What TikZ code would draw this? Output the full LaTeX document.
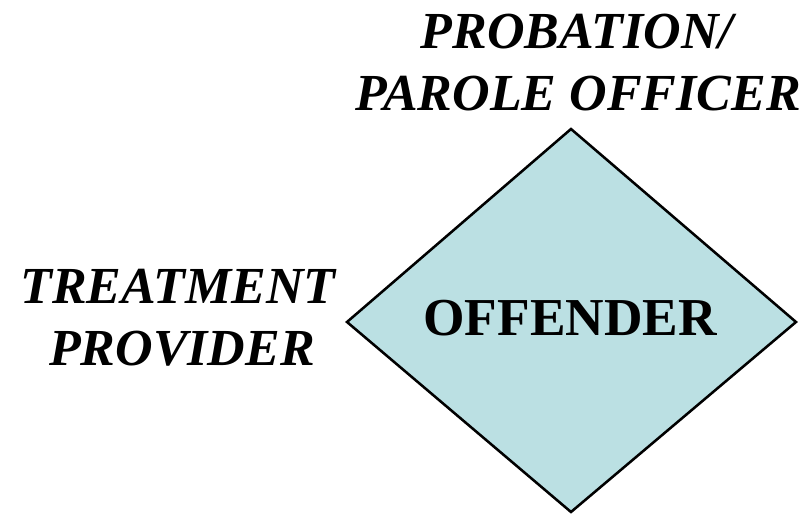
\documentclass[tikz,border=0pt]{standalone}
\usepackage{fontspec}
\setmainfont{Liberation Serif}
\definecolor{diafill}{HTML}{BBE0E3}
\begin{document}
\begin{tikzpicture}[x=0.75pt,y=-0.75pt,
  lbl/.style={font=\fontsize{39}{47}\selectfont\bfseries\itshape,anchor=base,inner sep=0pt},
  ctr/.style={font=\fontsize{40}{48}\selectfont\bfseries,anchor=base,inner sep=0pt},
  dia/.style={draw=black,line width=1.9pt,fill=diafill,line join=miter}]
\useasboundingbox (0,0) rectangle (811,514);
\coordinate (T) at (571,129);
\coordinate (R) at (796,322);
\coordinate (B) at (571,512);
\coordinate (L) at (347,322);
\draw[dia] (T) -- (R) -- (B) -- (L) -- cycle;
\node[ctr] (off) at (570,335) {OFFENDER};
\node[lbl] (prob) at (577,48) {PROBATION/};
\node[lbl] (par) at (578,110) {PAROLE OFFICER};
\node[lbl] (treat) at (178,303) {TREATMENT};
\node[lbl] (prov) at (182,365) {PROVIDER};
\end{tikzpicture}
\end{document}
